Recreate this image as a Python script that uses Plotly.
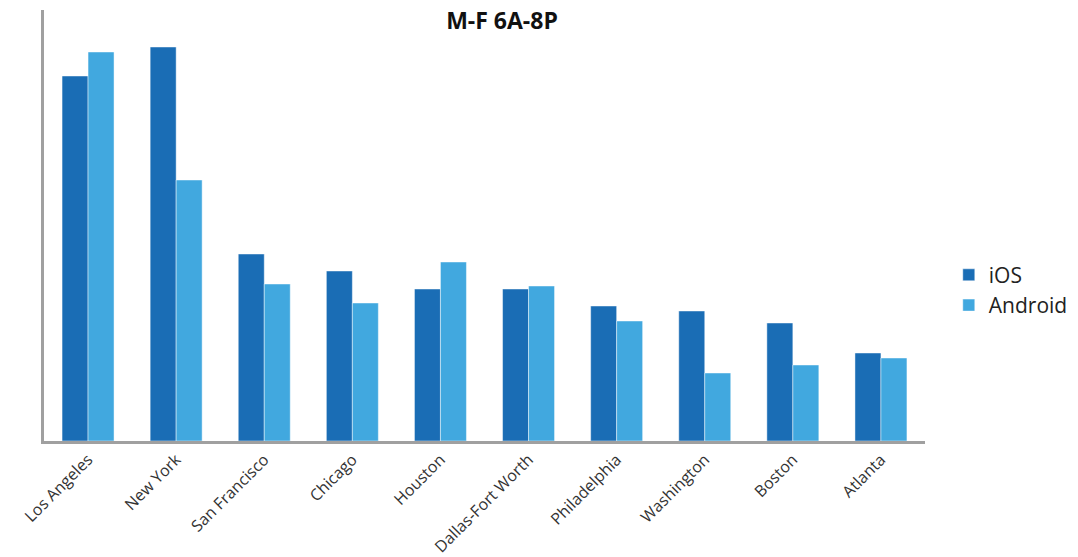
import plotly.graph_objects as go

cities = ["Los Angeles", "New York", "San Francisco", "Chicago", "Houston",
          "Dallas-Fort Worth", "Philadelphia", "Washington", "Boston", "Atlanta"]
ios = [365, 394, 187, 170, 152, 152, 135, 130, 118, 88]
android = [389, 261, 157, 138, 179, 155, 120, 68, 76, 83]

FONT = "Open Sans"

fig = go.Figure()
fig.add_trace(go.Bar(name="iOS", x=cities, y=ios, marker_color="#1a6db5",
                     marker_line=dict(color="rgba(255,255,255,0.45)", width=1)))
fig.add_trace(go.Bar(name="Android", x=cities, y=android, marker_color="#41a8df",
                     marker_line=dict(color="rgba(255,255,255,0.45)", width=1)))

fig.update_layout(
    width=1078, height=557,
    margin=dict(l=44, r=153, t=10, b=116, autoexpand=False),
    paper_bgcolor="white", plot_bgcolor="white",
    barmode="group", bargap=0.41, bargroupgap=0,
    font=dict(family=FONT, color="#333333"),
    title=dict(text="<b>M-F 6A-8P</b>", x=502/1078, xanchor="center",
               y=1-21/557, yanchor="middle",
               font=dict(family=FONT, size=23, color="#111111")),
    legend=dict(x=1.027, xanchor="left", y=0.35, yanchor="middle",
                font=dict(family=FONT, size=21, color="#222222"),
                itemwidth=30, tracegroupgap=0),
    showlegend=True,
)
fig.update_xaxes(showline=True, linecolor="#a0a0a0", linewidth=3, ticks="",
                 tickangle=-45, tickfont=dict(size=16, color="#333333"),
                 showgrid=False)
fig.update_yaxes(showline=True, linecolor="#a0a0a0", linewidth=3, ticks="",
                 showticklabels=False, showgrid=False, zeroline=False,
                 range=[0, 431])

fig.write_html("out.html")
